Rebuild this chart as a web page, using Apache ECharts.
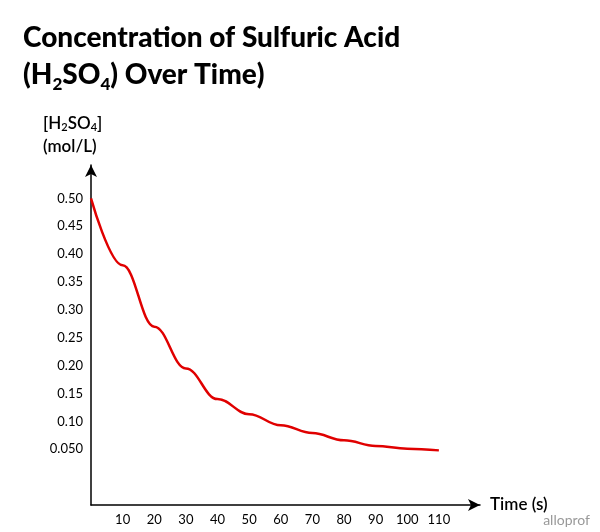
<!DOCTYPE html><html><head><meta charset="utf-8"><script src="https://cdn.jsdelivr.net/npm/echarts@6/dist/echarts.min.js"></script></head><body style="margin:0"><div id="c" style="width:600px;height:532px"></div><script>
const times=[0,10,20,30,40,50,60,70,80,90,100,110];
const conc=[0.50,0.38,0.27,0.195,0.14,0.113,0.093,0.079,0.066,0.056,0.051,0.048];
const xTicks=[10,20,30,40,50,60,70,80,90,100,110];
const yTicks=['0.050','0.10','0.15','0.20','0.25','0.30','0.35','0.40','0.45','0.50'];
const ch=echarts.init(document.getElementById('c'));
const F='Lato, "Noto Sans", sans-serif';
ch.setOption({
 title:{text:'Concentration of Sulfuric Acid\n({a|H}{s|2}{a|SO}{s|4}{a|) Over Time})',left:18,top:14,
  textStyle:{fontFamily:F,fontSize:28,fontWeight:900,color:'#000',lineHeight:37,
   rich:{a:{fontFamily:F,fontSize:28,fontWeight:900,color:'#000'},s:{fontFamily:F,fontSize:17,fontWeight:900,color:'#000',verticalAlign:'bottom',padding:[12,0,0,0]}}}},
 graphic:[{type:'text',left:43,top:112,style:{text:'[H{s|2}SO{s|4}]\n(mol/L)',font:'600 17px '+F,fill:'#000',lineHeight:23,
   rich:{s:{font:'600 11px '+F,fill:'#000',padding:[8,0,0,0]}}}},
  {type:'text',right:10,top:513,style:{text:'alloprof',font:'14px '+F,fill:'#999'}}],
 grid:{left:91,right:120,top:165,bottom:27},
 xAxis:{type:'value',min:0,max:123,interval:10,name:'Time (s)',nameGap:10,
  nameTextStyle:{fontFamily:F,fontSize:17,fontWeight:600,color:'#000'},
  axisLine:{onZero:false,symbol:['none','arrow'],symbolSize:[9,12],lineStyle:{color:'#000',width:1.5}},
  axisTick:{show:false},splitLine:{show:false},
  axisLabel:{fontFamily:F,fontSize:13,color:'#000',formatter:v=>xTicks.includes(v)?String(v):''}},
 yAxis:{type:'value',min:-0.05,max:0.56,interval:0.05,
  axisLine:{show:true,onZero:false,symbol:['none','arrow'],symbolSize:[9,12],lineStyle:{color:'#000',width:1.5}},
  axisTick:{show:false},splitLine:{show:false},
  axisLabel:{fontFamily:F,fontSize:13,color:'#000',formatter:v=>{const i=Math.round(v/0.05)-1;return (i>=0&&i<yTicks.length)?yTicks[i]:'';}}},
 series:[{type:'line',smooth:0.4,smoothMonotone:'x',symbol:'none',data:times.map((t,i)=>[t,conc[i]]),lineStyle:{color:'#e00000',width:2.5}}]
});
</script></body></html>
